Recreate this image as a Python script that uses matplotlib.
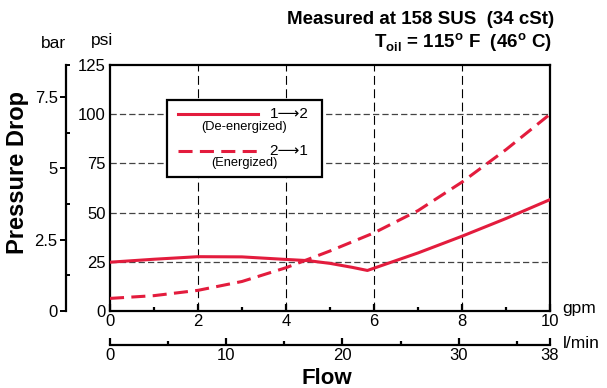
import numpy as np
import matplotlib
matplotlib.use("Agg")
import matplotlib.pyplot as plt
from matplotlib.patches import Rectangle
from matplotlib.lines import Line2D

plt.rcParams['font.family'] = ['Liberation Sans', 'DejaVu Sans']
plt.rcParams['mathtext.fontset'] = 'custom'
plt.rcParams['mathtext.rm'] = 'Liberation Sans'
plt.rcParams['mathtext.bf'] = 'Liberation Sans:bold'

# values (flow in gpm, pressure drop in psi)
flow_deenergized = [0, 1, 2, 3, 4, 4.5, 5, 5.5, 5.85, 7, 8, 9, 10]
dp_deenergized = [24.8, 26.3, 27.6, 27.5, 26.2, 25.6, 24.2, 22.2, 20.6, 29.5, 38, 47, 56.6]

flow_energized = [0, 1, 2, 3, 4, 5, 6, 7, 8, 9, 10]
dp_energized = [6.4, 7.8, 10.5, 15, 22, 30.5, 39.7, 51, 65.5, 82, 100]

gpm_ticks = [0, 2, 4, 6, 8, 10]
psi_ticks = [0, 25, 50, 75, 100, 125]
bar_ticks = [0, 2.5, 5, 7.5]
lpm_ticks = [0, 10, 20, 30, 37.85]
lpm_labels = ['0', '10', '20', '30', '38']

PSI_PER_BAR = 14.5038
LPM_PER_GPM = 3.785
red = '#e31c3d'

W, H = 607, 388
fig = plt.figure(figsize=(W / 100, H / 100), dpi=100)

def box(x0, y0, x1, y1):
    # pixel box (from top left) -> figure fraction
    return [x0 / W, (H - y1) / H, (x1 - x0) / W, (y1 - y0) / H]

ax = fig.add_axes(box(110, 65, 550, 311))
ax.plot(flow_energized, dp_energized, color=red, lw=2.2,
        linestyle=(0, (4.6, 2.4)), zorder=3)
ax.plot(flow_deenergized, dp_deenergized, color=red, lw=2.2, zorder=3)

ax.set_xlim(0, 10)
ax.set_ylim(0, 125)
for s in ax.spines.values():
    s.set_linewidth(1.6)

# grid
for v in [2, 4, 6, 8]:
    ax.axvline(v, color='black', lw=0.8, linestyle=(0, (8, 4)), zorder=1)
for v in [25, 50, 75, 100]:
    ax.axhline(v, color='#444444', lw=0.9, linestyle=(0, (5, 2.5)), zorder=1)

ax.set_xticks(gpm_ticks)
ax.set_xticks([1, 3, 5, 7, 9], minor=True)
ax.set_yticks(psi_ticks)
ax.tick_params(axis='x', which='major', direction='in', length=5, width=1.6,
               labelsize=12, pad=2)
ax.tick_params(axis='x', which='minor', direction='in', length=3, width=1.6)
ax.tick_params(axis='y', which='major', length=0, labelsize=12, pad=3)

# bar scale on the far left
axb = fig.add_axes(box(66, 65, 67, 311))
axb.set_ylim(0, 125 / PSI_PER_BAR)
axb.patch.set_visible(False)
for k in ['top', 'right', 'bottom']:
    axb.spines[k].set_visible(False)
axb.spines['left'].set_linewidth(1.6)
axb.set_xticks([])
axb.set_yticks(bar_ticks)
axb.set_yticklabels(['0', '2.5', '5', '7.5'])
axb.set_yticks([0, 1.25, 3.75, 6.25, 125 / PSI_PER_BAR], minor=True)
axb.tick_params(axis='y', which='major', direction='out', length=4, width=1.4,
                labelsize=12, pad=2)
axb.tick_params(axis='y', which='minor', direction='in', length=3, width=1.4)

# l/min scale under the gpm scale
axl = fig.add_axes(box(110, 340, 550, 345))
axl.set_xlim(0, 10 * LPM_PER_GPM)
axl.patch.set_visible(False)
for k in ['top', 'right', 'left']:
    axl.spines[k].set_visible(False)
axl.spines['bottom'].set_linewidth(1.6)
axl.set_yticks([])
axl.set_xticks(lpm_ticks)
axl.set_xticklabels(lpm_labels)
axl.set_xticks([5, 15, 25, 35], minor=True)
axl.tick_params(axis='x', which='major', direction='in', length=5, width=1.6,
                labelsize=12, pad=2)
axl.tick_params(axis='x', which='minor', direction='in', length=3, width=1.6)

# legend drawn by hand
ax.add_patch(Rectangle((0.1295, 0.5447), 0.3523, 0.313, transform=ax.transAxes,
                       facecolor='white', edgecolor='black', lw=1.6, zorder=5))
ax.add_line(Line2D([0.1545, 0.3364], [0.8008, 0.8008], transform=ax.transAxes,
                   color=red, lw=2.2, zorder=6))
ax.add_line(Line2D([0.1545, 0.3364], [0.6516, 0.6516], transform=ax.transAxes,
                   color=red, lw=2.2, linestyle=(0, (4.6, 2.4)), zorder=6))
ax.text(0.363, 0.8008, '1\u27f62', transform=ax.transAxes, fontsize=11,
        va='center', ha='left', zorder=7)
ax.text(0.363, 0.6516, '2\u27f61', transform=ax.transAxes, fontsize=11,
        va='center', ha='left', zorder=7)
ax.text(0.3045, 0.749, '(De-energized)', transform=ax.transAxes, fontsize=9.3,
        va='center', ha='center', zorder=7)
ax.text(0.3045, 0.6016, '(Energized)', transform=ax.transAxes, fontsize=9.3,
        va='center', ha='center', zorder=7)

# labels
fig.text(554 / W, 1 - 20 / H, 'Measured at 158 SUS  (34 cSt)', fontsize=13.5,
         fontweight='bold', ha='right', va='center')
fig.text(552 / W, 1 - 43 / H,
         r'T$_{\mathbf{oil}}$ = 115$^{\mathbf{o}}$ F  (46$^{\mathbf{o}}$ C)',
         fontsize=13.5, fontweight='bold', ha='right', va='center')
fig.text(53 / W, 1 - 44 / H, 'bar', fontsize=12.5, ha='center', va='center')
fig.text(102 / W, 1 - 40 / H, 'psi', fontsize=12.5, ha='center', va='center')
fig.text(18 / W, 1 - 172 / H, 'Pressure Drop', fontsize=17, fontweight='bold',
         rotation=90, ha='center', va='center')
fig.text(562 / W, 1 - 309 / H, 'gpm', fontsize=12.5, ha='left', va='center')
fig.text(563 / W, 1 - 343 / H, 'l/min', fontsize=12.5, ha='left', va='center')
fig.text(327 / W, 1 - 379 / H, 'Flow', fontsize=16, fontweight='bold',
         ha='center', va='center')

fig.savefig('out.png', dpi=100)
